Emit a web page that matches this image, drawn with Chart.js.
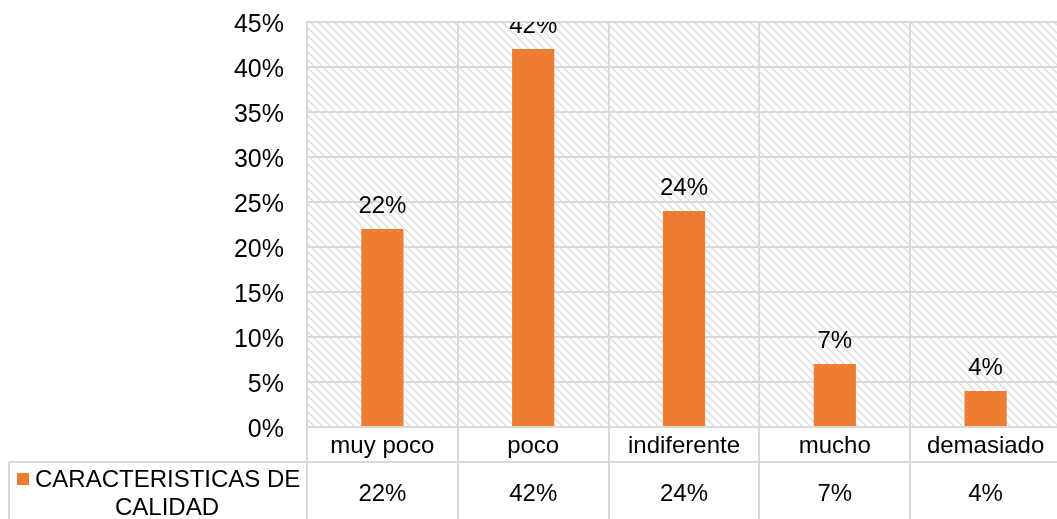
<!DOCTYPE html>
<html>
<head>
<meta charset="utf-8">
<script src="https://cdn.jsdelivr.net/npm/chart.js@4/dist/chart.umd.min.js"></script>
<style>
  html, body { margin: 0; padding: 0; background: #fff; overflow: hidden; }
  #wrap { width: 1057px; height: 519px; overflow: hidden; }
</style>
</head>
<body>
<div id="wrap"><canvas id="c" width="1061" height="519"></canvas></div>
<script>
// Survey results: perceived quality characteristics
const categories = ['muy poco', 'poco', 'indiferente', 'mucho', 'demasiado'];
const values = [22, 42, 24, 7, 4];
const seriesName = 'CARACTERISTICAS DE CALIDAD';
const legendLines = ['CARACTERISTICAS DE', 'CALIDAD'];
const yMax = 45;
const yStep = 5;

const FONT = '"Liberation Sans", Arial, sans-serif';
const BAR = '#ED7D31';
const GRID = '#d9d9d9';

// Diagonal hatch used as the plot background
function makeHatch(ctx) {
  const c = document.createElement('canvas');
  c.width = 8; c.height = 8;
  const g = c.getContext('2d');
  const img = g.createImageData(8, 8);
  for (let y = 0; y < 8; y++) {
    for (let x = 0; x < 8; x++) {
      const d = ((x - y) % 8 + 8) % 8;
      const v = d === 0 ? 222 : (d === 1 || d === 7) ? 236 : 255;
      const i = (y * 8 + x) * 4;
      img.data[i] = v; img.data[i + 1] = v; img.data[i + 2] = v; img.data[i + 3] = 255;
    }
  }
  g.putImageData(img, 0, 0);
  return ctx.createPattern(c, 'repeat');
}

const hatchBackground = {
  id: 'hatchBackground',
  beforeDraw(chart) {
    const { ctx, chartArea: a } = chart;
    ctx.save();
    ctx.fillStyle = makeHatch(ctx);
    ctx.fillRect(a.left, a.top, a.right - a.left, a.bottom - a.top);
    ctx.restore();
  }
};

const valueLabels = {
  id: 'valueLabels',
  afterDatasetsDraw(chart) {
    const { ctx, chartArea: a } = chart;
    const meta = chart.getDatasetMeta(0);
    ctx.save();
    ctx.beginPath();
    ctx.rect(a.left, a.top, a.right - a.left, a.bottom - a.top);
    ctx.clip();
    ctx.font = '24px ' + FONT;
    ctx.fillStyle = '#000';
    ctx.textAlign = 'center';
    ctx.textBaseline = 'alphabetic';
    meta.data.forEach((bar, i) => {
      ctx.fillText(values[i] + '%', bar.x, bar.y - 16);
    });
    ctx.restore();
  }
};

// Data table under the axis: category row, value row and legend key
const dataTable = {
  id: 'dataTable',
  afterDraw(chart) {
    const { ctx, chartArea: a, width, height } = chart;
    const xs = chart.scales.x;
    const n = categories.length;
    const catW = (a.right - a.left) / n;
    const rowY = a.bottom + 35;
    const tableLeft = 9;
    ctx.save();
    ctx.strokeStyle = GRID;
    ctx.lineWidth = 2;
    ctx.beginPath();
    ctx.moveTo(tableLeft, rowY);
    ctx.lineTo(width, rowY);
    for (let i = 0; i <= n; i++) {
      const x = Math.round(a.left + i * catW);
      ctx.moveTo(x, a.bottom);
      ctx.lineTo(x, height);
    }
    ctx.moveTo(tableLeft, rowY);
    ctx.lineTo(tableLeft, height);
    ctx.stroke();

    ctx.font = '24px ' + FONT;
    ctx.fillStyle = '#000';
    ctx.textAlign = 'center';
    ctx.textBaseline = 'middle';
    values.forEach((v, i) => {
      ctx.fillText(v + '%', xs.getPixelForValue(i), rowY + 32);
    });

    // legend key
    ctx.fillStyle = BAR;
    ctx.fillRect(17, rowY + 11, 12, 12);
    ctx.fillStyle = '#000';
    ctx.textAlign = 'left';
    ctx.fillText(legendLines[0], 35, rowY + 18);
    ctx.textAlign = 'center';
    ctx.fillText(legendLines[1], 167, rowY + 46);
    ctx.restore();
  }
};

new Chart(document.getElementById('c'), {
  type: 'bar',
  data: {
    labels: categories,
    datasets: [{
      label: seriesName,
      data: values,
      backgroundColor: BAR,
      borderWidth: 0,
      barPercentage: 0.28,
      categoryPercentage: 1
    }]
  },
  options: {
    responsive: false,
    animation: false,
    layout: { padding: { top: 22, right: 0, bottom: 0, left: 0 } },
    plugins: {
      legend: { display: false },
      tooltip: { enabled: false }
    },
    scales: {
      x: {
        offset: true,
        grid: { color: GRID, lineWidth: 2, drawTicks: false, offset: true },
        border: { color: GRID, width: 2 },
        ticks: {
          color: '#000',
          font: { family: FONT, size: 24 },
          padding: 5,
          maxRotation: 0,
          autoSkip: false
        },
        afterFit(scale) { scale.height = 92; }
      },
      y: {
        min: 0,
        max: yMax,
        grid: { color: GRID, lineWidth: 2, drawTicks: true, tickLength: 23, tickColor: 'rgba(0,0,0,0)' },
        border: { color: GRID, width: 2 },
        ticks: {
          stepSize: yStep,
          color: '#000',
          font: { family: FONT, size: 25 },
          padding: 0,
          labelOffset: 3,
          callback: v => v + '%'
        },
        afterFit(scale) { scale.width = 307; }
      }
    }
  },
  plugins: [hatchBackground, valueLabels, dataTable]
});
</script>
</body>
</html>
